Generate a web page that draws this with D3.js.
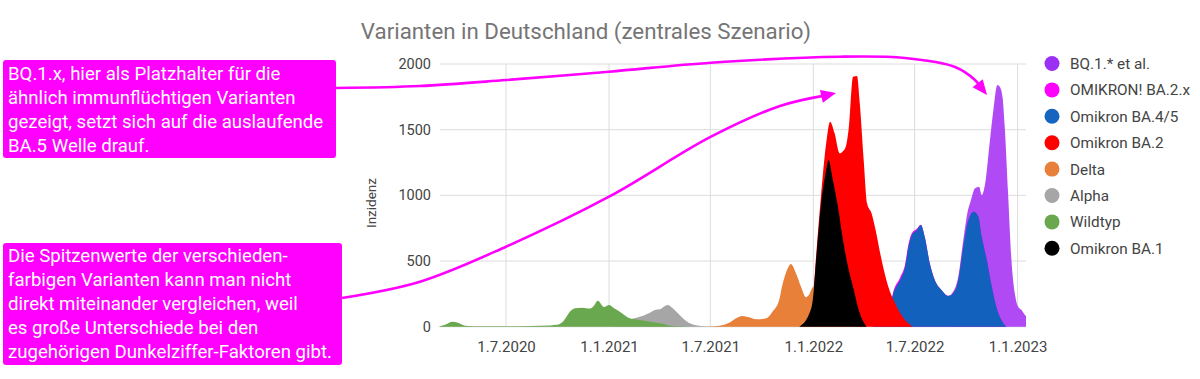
<!DOCTYPE html>
<html><head><meta charset="utf-8">
<script src="https://cdn.jsdelivr.net/npm/d3@7"></script>
<style>body{margin:0;background:#fff;} svg{display:block;font-family:Roboto, "Noto Sans", sans-serif;}</style>
</head><body><svg id="c" width="1200" height="379"></svg>
<script>
// ---------- data ----------
const seriesNames = ["BQ.1.* et al.", "OMIKRON! BA.2.x", "Omikron BA.4/5", "Omikron BA.2", "Delta", "Alpha", "Wildtyp", "Omikron BA.1"];
const seriesColors = ["#9b30f5", "#ff00ff", "#1565c0", "#ff0000", "#e8803a", "#a6a6a6", "#6aa84f", "#000000"];
const areaColors   = ["#b04af5", "#ff00ff", "#1262bd", "#ff0000", "#e8803a", "#a6a6a6", "#6aa84f", "#000000"];
const xTickLabels = ["1.7.2020", "1.1.2021", "1.7.2021", "1.1.2022", "1.7.2022", "1.1.2023"];
const xTickDates = ["2020-07-01", "2021-01-01", "2021-07-01", "2022-01-01", "2022-07-01", "2023-01-01"];
const yTicks = [0, 500, 1000, 1500, 2000];

const wildtyp = [["2020-03-02",0],["2020-03-14",15],["2020-03-27",38],["2020-04-06",30],["2020-04-19",8],["2020-05-16",4],["2020-07-01",4],["2020-08-13",6],["2020-09-18",10],["2020-09-30",14],["2020-10-11",40],["2020-10-23",114],["2020-11-01",140],["2020-11-14",145],["2020-11-28",138],["2020-12-05",160],["2020-12-12",198],["2020-12-23",150],["2021-01-01",165],["2021-01-10",140],["2021-01-21",112],["2021-02-07",64],["2021-02-25",51],["2021-03-15",38],["2021-04-02",26],["2021-04-20",8],["2021-05-08",3],["2021-05-26",0]];
const alpha = [["2021-01-10",0],["2021-01-21",30],["2021-02-13",62],["2021-03-03",84],["2021-03-15",107],["2021-03-24",127],["2021-04-02",132],["2021-04-11",158],["2021-04-16",165],["2021-04-25",140],["2021-05-04",102],["2021-05-13",64],["2021-05-22",33],["2021-06-03",13],["2021-06-18",3],["2021-07-01",0]];
const delta = [["2021-06-12",0],["2021-06-30",2],["2021-07-17",8],["2021-08-04",30],["2021-08-16",64],["2021-08-27",81],["2021-09-08",71],["2021-09-21",56],["2021-10-09",64],["2021-10-20",114],["2021-11-01",203],["2021-11-06",304],["2021-11-15",431],["2021-11-22",477],["2021-12-01",406],["2021-12-10",304],["2021-12-19",224],["2021-12-24",241],["2022-01-01",304],["2022-01-12",300],["2022-01-30",150],["2022-02-26",30],["2022-03-25",0]];
const ba1 = [["2021-12-07",0],["2021-12-25",102],["2021-12-31",203],["2022-01-06",508],["2022-01-15",939],["2022-01-24",1193],["2022-01-28",1269],["2022-02-05",1117],["2022-02-14",914],["2022-02-23",660],["2022-03-04",457],["2022-03-13",304],["2022-03-25",102],["2022-04-06",0]];
const ba2 = [["2021-12-10",0],["2021-12-25",110],["2021-12-31",215],["2022-01-06",540],["2022-01-15",1010],["2022-01-24",1396],["2022-01-31",1561],["2022-02-08",1472],["2022-02-17",1320],["2022-02-22",1332],["2022-02-28",1370],["2022-03-05",1500],["2022-03-13",1903],["2022-03-20",1909],["2022-03-25",1701],["2022-04-01",1269],["2022-04-07",939],["2022-04-15",863],["2022-04-21",761],["2022-05-03",508],["2022-05-15",304],["2022-05-27",178],["2022-06-05",104],["2022-06-14",50],["2022-06-28",0]];
const ba45 = [["2022-04-15",0],["2022-04-30",30],["2022-05-18",150],["2022-05-24",254],["2022-06-05",355],["2022-06-14",457],["2022-06-20",609],["2022-06-26",698],["2022-07-05",736],["2022-07-12",774],["2022-07-19",685],["2022-07-28",483],["2022-08-06",355],["2022-08-18",279],["2022-08-30",234],["2022-09-08",254],["2022-09-17",355],["2022-09-26",609],["2022-10-05",812],["2022-10-15",875],["2022-10-23",837],["2022-10-29",685],["2022-11-07",508],["2022-11-16",304],["2022-11-24",152],["2022-12-03",51],["2022-12-12",0]];
const ba2x = [["2022-04-15",0],["2022-04-30",32],["2022-05-18",158],["2022-05-24",268],["2022-06-05",372],["2022-06-14",475],["2022-06-20",628],["2022-06-26",712],["2022-07-05",745],["2022-07-12",776],["2022-07-19",687],["2022-07-28",485],["2022-08-06",356],["2022-08-18",280],["2022-08-30",235],["2022-09-08",256],["2022-09-17",360],["2022-09-26",615],["2022-10-05",815],["2022-10-15",876],["2022-10-23",838],["2022-10-29",686],["2022-11-07",509],["2022-11-16",305],["2022-11-24",152],["2022-12-03",51],["2022-12-12",0]];
const bq1 = [["2022-09-05",250],["2022-09-17",380],["2022-09-26",660],["2022-10-05",900],["2022-10-08",939],["2022-10-17",1054],["2022-10-24",1066],["2022-10-29",1003],["2022-11-05",1117],["2022-11-12",1396],["2022-11-18",1625],["2022-11-26",1840],["2022-11-30",1827],["2022-12-05",1751],["2022-12-09",1523],["2022-12-15",1015],["2022-12-21",508],["2022-12-27",254],["2023-01-02",152],["2023-01-08",127],["2023-01-14",89],["2023-01-16",80]];

const seriesData = [bq1, ba2x, ba45, ba2, delta, alpha, wildtyp, ba1];

// ---------- chart ----------
const svg = d3.select("#c");
const parse = d3.timeParse("%Y-%m-%d");
const x = d3.scaleTime().domain([parse("2020-03-05"), parse("2023-01-16")]).range([440, 1026]);
const y = d3.scaleLinear().domain([0, 2000]).range([326.7, 64]);

// title
svg.append("text").attr("x", 586).attr("y", 39).attr("text-anchor", "middle")
  .attr("font-size", 22.3).attr("fill", "#757575").text("Varianten in Deutschland (zentrales Szenario)");

// grid
const grid = svg.append("g");
grid.selectAll("line.h").data(yTicks).join("line")
  .attr("x1", 440).attr("x2", 1026).attr("y1", d => y(d)).attr("y2", d => y(d))
  .attr("stroke", d => d === 0 ? "#c8c8c8" : "#dcdcdc").attr("stroke-width", 1);
grid.selectAll("line.v").data(xTickDates).join("line")
  .attr("x1", d => x(parse(d))).attr("x2", d => x(parse(d))).attr("y1", y(2000)).attr("y2", y(0))
  .attr("stroke", "#dcdcdc").attr("stroke-width", 1);

// axes labels
const yAxis = d3.axisLeft(y).tickValues(yTicks).tickSize(0).tickPadding(9).tickFormat(d3.format("d"));
const ga = svg.append("g").attr("transform", "translate(440,0)").call(yAxis);
ga.select(".domain").remove();
ga.selectAll("text").attr("font-size", 14.5).attr("fill", "#444").attr("font-family", "Roboto");

const xAxis = d3.axisBottom(x).tickValues(xTickDates.map(parse)).tickSize(0).tickPadding(14)
  .tickFormat((d, i) => xTickLabels[i]);
const gx = svg.append("g").attr("transform", "translate(0,327)").call(xAxis);
gx.select(".domain").remove();
gx.selectAll("text").attr("font-size", 15).attr("fill", "#444").attr("font-family", "Roboto");

svg.append("text").attr("transform", "translate(376,203) rotate(-90)").attr("text-anchor", "middle")
  .attr("font-size", 13.5).attr("fill", "#444").text("Inzidenz");

// areas
const area = d3.area().x(d => x(parse(d[0]))).y0(y(0)).y1(d => y(d[1])).curve(d3.curveMonotoneX);
svg.append("g").selectAll("path").data(seriesData).join("path")
  .attr("d", area).attr("fill", (d, i) => areaColors[i]);

// legend
const lg = svg.append("g").selectAll("g").data(seriesNames).join("g")
  .attr("transform", (d, i) => `translate(1052,${63.5 + i * 26.4})`);
lg.append("circle").attr("r", 7.5).attr("fill", (d, i) => seriesColors[i]);
lg.append("text").attr("x", 18).attr("y", 5.5).attr("font-size", 15.3).attr("fill", "#444").text(d => d);

// annotations
const magenta = "#ff00ff";
function box(xp, yp, w, h, lines, y0) {
  svg.append("rect").attr("x", xp).attr("y", yp).attr("width", w).attr("height", h).attr("rx", 3).attr("fill", magenta);
  svg.append("g").selectAll("text").data(lines).join("text")
    .attr("x", xp + 5).attr("y", (d, i) => y0 + i * 24.2).attr("font-size", 18.6).attr("fill", "#fff").text(d => d);
}
box(3, 60, 333, 98, ["BQ.1.x, hier als Platzhalter für die", "ähnlich immunflüchtigen Varianten", "gezeigt, setzt sich auf die auslaufende", "BA.5 Welle drauf."], 79.5);
box(3, 243, 339, 122, ["Die Spitzenwerte der verschieden-", "farbigen Varianten kann man nicht", "direkt miteinander vergleichen, weil", "es große Unterschiede bei den", "zugehörigen Dunkelziffer-Faktoren gibt."], 261.5);

function arrow(pts) {
  const line = d3.line().curve(d3.curveCatmullRom.alpha(0.5));
  const n = pts.length;
  const tip = pts[n - 1], prev = pts[n - 2];
  const ang = Math.atan2(tip[1] - prev[1], tip[0] - prev[0]);
  const L = 15, W = 6.5;
  const base = [tip[0] - L * 0.7 * Math.cos(ang), tip[1] - L * 0.7 * Math.sin(ang)];
  const p2 = pts.slice(0, n - 1).concat([base]);
  svg.append("path").attr("d", line(p2)).attr("fill", "none").attr("stroke", magenta).attr("stroke-width", 2.6);
  const bx = tip[0] - L * Math.cos(ang), by = tip[1] - L * Math.sin(ang);
  const px = -Math.sin(ang) * W, py = Math.cos(ang) * W;
  svg.append("path").attr("d", `M${tip[0]},${tip[1]}L${bx + px},${by + py}L${bx - px},${by - py}Z`).attr("fill", magenta);
}
arrow([[336, 88], [420, 86], [506, 80], [609, 71.7], [711, 62.7], [840, 56.7], [905, 58], [955, 67], [975, 80], [987, 95]]);
arrow([[342, 298], [420, 281.7], [506, 246.7], [609, 196.7], [711, 136.7], [780, 106], [836, 93]]);
</script></body></html>
